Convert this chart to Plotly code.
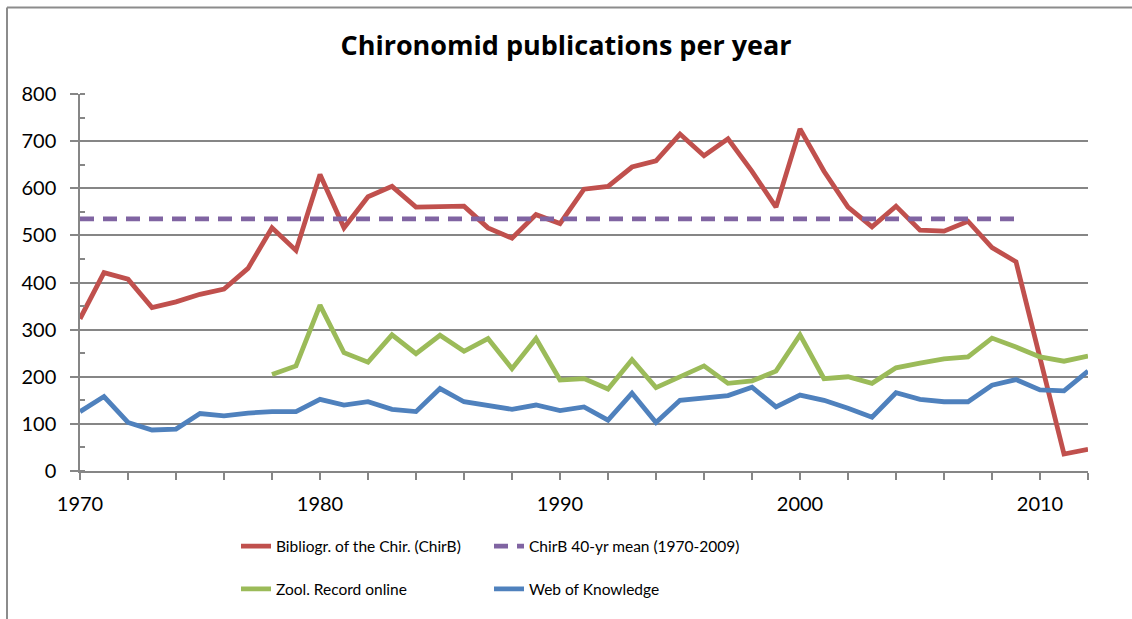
import plotly.graph_objects as go

years = list(range(1970, 2013))

chirb = [323, 421, 407, 347, 359, 375, 386, 430, 516, 468,
         629, 516, 582, 604, 560, 562, 562, 516, 494, 544,
         525, 598, 604, 645, 658, 715, 669, 705, 636, 560,
         726, 636, 560, 518, 562, 511, 509, 530, 474, 444,
         240, 36, 46]

mean_years = list(range(1970, 2010))
chirb_mean = [535] * len(mean_years)

zool_years = list(range(1978, 2013))
zool = [205, 223, 352, 251, 231, 289, 249, 288, 254, 281,
        217, 281, 193, 196, 174, 236, 177, 201, 223, 186,
        191, 212, 289, 196, 200, 186, 219, 229, 238, 242,
        282, 263, 242, 233, 244]

wok = [126, 158, 103, 87, 89, 122, 117, 123, 126, 126,
       152, 140, 147, 131, 126, 175, 147, 138, 131, 140,
       128, 136, 108, 165, 103, 150, 154, 160, 178, 136,
       161, 150, 133, 114, 166, 152, 147, 147, 182, 194,
       172, 170, 212]

title_text = "Chironomid publications per year"
names = ["Bibliogr. of the Chir. (ChirB)", "ChirB 40-yr mean (1970-2009)",
         "Zool. Record online", "Web of Knowledge"]

RED, PURPLE, GREEN, BLUE = "#C0504D", "#8064A2", "#9BBB59", "#4F81BD"
GRID = "#868686"
FONT = "Lato"
LW = 4.8

fig = go.Figure()
fig.add_trace(go.Scatter(x=years, y=chirb, mode="lines", name=names[0],
                         line=dict(color=RED, width=LW), legend="legend"))
fig.add_trace(go.Scatter(x=mean_years, y=chirb_mean, mode="lines", name=names[1],
                         line=dict(color=PURPLE, width=LW, dash="14px,9px"), legend="legend"))
fig.add_trace(go.Scatter(x=zool_years, y=zool, mode="lines", name=names[2],
                         line=dict(color=GREEN, width=LW), legend="legend2"))
fig.add_trace(go.Scatter(x=years, y=wok, mode="lines", name=names[3],
                         line=dict(color=BLUE, width=LW), legend="legend2"))

L, R, T, B = 80, 1088, 94, 473
W, H = 1132, 619
pw, ph = R - L, B - T

def px_x(p):
    return (p - L) / pw

def px_y(p):
    return (B - p) / ph

legend_common = dict(orientation="h", xanchor="left", yanchor="middle",
                     entrywidth=208, entrywidthmode="pixels",
                     font=dict(family=FONT, size=15.5, color="black"),
                     bgcolor="rgba(0,0,0,0)", itemwidth=30)

fig.update_layout(
    width=W, height=H,
    margin=dict(l=L, r=W - R, t=T, b=H - B),
    paper_bgcolor="white", plot_bgcolor="white",
    font=dict(family=FONT, size=20, color="black"),
    title=dict(text="<b>" + title_text + "</b>", x=0.5, xanchor="center",
               y=1 - 46 / H, yanchor="middle",
               font=dict(family="Open Sans", size=27, color="black")),
    showlegend=True,
    legend=dict(x=px_x(236), y=px_y(549), **legend_common),
    legend2=dict(x=px_x(236), y=px_y(592), **legend_common),
    xaxis=dict(range=[1970, 2012], dtick=10, tick0=1970,
               showgrid=False, zeroline=False,
               showline=True, linecolor=GRID, linewidth=1.5,
               ticks="outside", ticklen=7, tickcolor=GRID, tickwidth=1.5,
               minor=dict(dtick=2, ticks="outside", ticklen=7, tickcolor=GRID, tickwidth=1.5),
               ticklabelstandoff=7,
               tickfont=dict(family=FONT, size=20, color="black")),
    yaxis=dict(range=[0, 800], dtick=100, showgrid=True, gridcolor=GRID, gridwidth=1.5,
               zeroline=False, showline=True, linecolor=GRID, linewidth=1.5,
               ticks="outside", ticklen=8, tickcolor=GRID, tickwidth=1.5,
               minor=dict(dtick=50, ticks="inside", ticklen=5, tickcolor=GRID, tickwidth=1.5,
                          showgrid=False),
               ticklabelstandoff=10,
               tickfont=dict(family=FONT, size=20, color="black")),
)

# chart border (top and left edges visible)
fig.add_shape(type="line", xref="paper", yref="paper",
              x0=px_x(7), x1=px_x(W + 5), y0=px_y(7), y1=px_y(7),
              line=dict(color="#8c8c8c", width=2))
fig.add_shape(type="line", xref="paper", yref="paper",
              x0=px_x(7), x1=px_x(7), y0=px_y(7), y1=px_y(H + 5),
              line=dict(color="#8c8c8c", width=2))

fig.write_html("out.html", config={"displayModeBar": False},
               post_script="document.body.style.margin='0';")
